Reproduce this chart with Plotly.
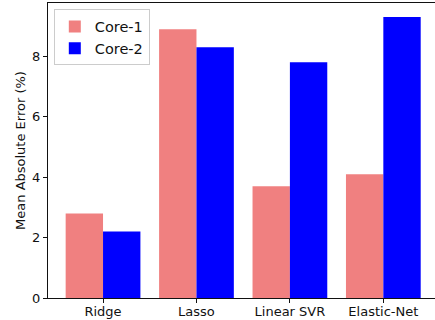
import plotly.graph_objects as go

models = ["Ridge", "Lasso", "Linear SVR", "Elastic-Net"]
core1_mae = [2.8, 8.9, 3.7, 4.1]
core2_mae = [2.2, 8.3, 7.8, 9.3]
y_ticks = [0, 2, 4, 6, 8]

FONT = "DejaVu Sans"
INK = "#111111"

fig = go.Figure()
fig.add_trace(go.Bar(x=list(range(len(models))), y=core1_mae, name="Core-1",
                     marker=dict(color="#F08080", line=dict(width=0))))
fig.add_trace(go.Bar(x=list(range(len(models))), y=core2_mae, name="Core-2",
                     marker=dict(color="#0000FF", line=dict(width=0))))

fig.update_layout(
    width=435, height=320,
    margin=dict(l=48, r=0, t=3, b=22),
    paper_bgcolor="white", plot_bgcolor="white",
    barmode="group", bargap=0.2, bargroupgap=0,
    font=dict(family=FONT, size=13, color=INK),
    showlegend=True,
    legend=dict(x=0.015, y=0.978, xanchor="left", yanchor="top",
                bgcolor="rgba(255,255,255,0.8)", bordercolor="#CCCCCC", borderwidth=1,
                font=dict(family=FONT, size=14.5, color=INK),
                itemwidth=30, tracegroupgap=0),
)
fig.update_xaxes(
    range=[-0.589, 3.553], automargin=False,
    tickmode="array", tickvals=list(range(len(models))), ticktext=models,
    showline=True, linecolor=INK, linewidth=1, mirror=True,
    ticks="outside", ticklen=4, tickcolor=INK, ticklabelstandoff=-3,
    showgrid=False, zeroline=False,
    tickfont=dict(family=FONT, size=13, color=INK),
)
fig.update_yaxes(
    range=[0, 9.765], automargin=False,
    tickmode="array", tickvals=y_ticks,
    showline=True, linecolor=INK, linewidth=1,
    ticks="outside", ticklen=4, tickcolor=INK,
    showgrid=False, zeroline=False,
    title=dict(text="Mean Absolute Error (%)", standoff=3,
               font=dict(family=FONT, size=13, color=INK)),
    tickfont=dict(family=FONT, size=13, color=INK),
)

fig.write_html("out.html")
